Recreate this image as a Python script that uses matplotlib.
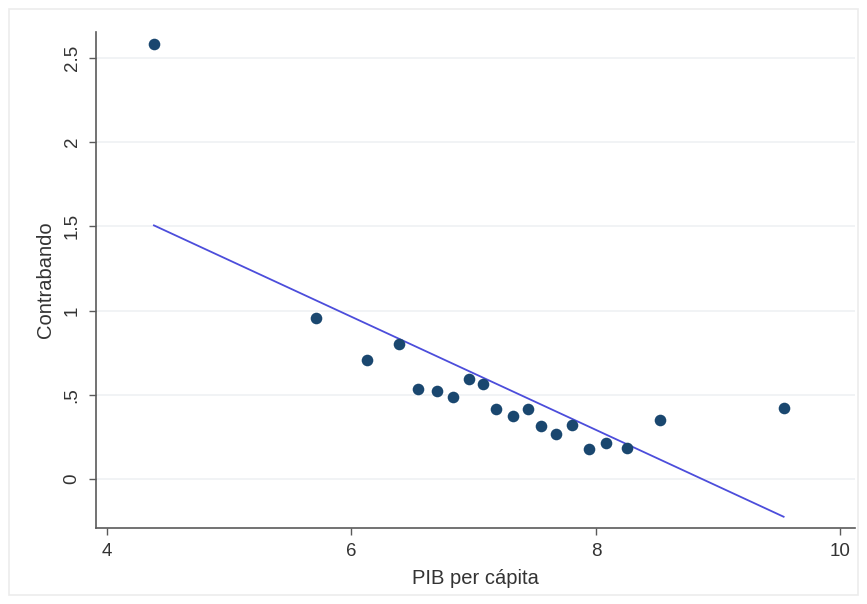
import numpy as np
import matplotlib
matplotlib.use("Agg")
import matplotlib.pyplot as plt
from matplotlib.patches import Rectangle

pib = [4.384, 5.709, 6.126, 6.388, 6.543, 6.698, 6.829, 6.960, 7.074, 7.181,
       7.320, 7.442, 7.549, 7.671, 7.802, 7.941, 8.080, 8.252, 8.522, 9.536]
contrabando = [2.583, 0.958, 0.708, 0.804, 0.536, 0.524, 0.488, 0.595, 0.565, 0.417,
               0.375, 0.417, 0.315, 0.268, 0.321, 0.179, 0.214, 0.185, 0.351, 0.423]
# fitted line as shown in the chart
fit_intercept = 2.979
fit_slope = -0.336
xticks = [4, 6, 8, 10]
yticks = [0, 0.5, 1, 1.5, 2, 2.5]
yticklabels = ["0", ".5", "1", "1.5", "2", "2.5"]

plt.rcParams['font.family'] = ['Liberation Sans', 'DejaVu Sans']

fig = plt.figure(figsize=(8.67, 6.04), dpi=100)
fig.patch.set_facecolor('white')
fig.patches.append(Rectangle((9/867, 9/604), 849/867, 586/604, transform=fig.transFigure,
                             fill=False, edgecolor='#ececec', linewidth=1.2))
ax = fig.add_axes([96/867, (604-528)/604, (855-96)/867, (528-32)/604])

x = np.array(pib)
y = np.array(contrabando)
xf = np.array([x.min(), x.max()])

for t in yticks:
    ax.axhline(t, color='#eff1f3', linewidth=1.2, zorder=0)

ax.scatter(x, y, s=70, color='#1a476f', zorder=3, linewidths=0)
ax.plot(xf, fit_intercept + fit_slope * xf, color='#4c4ddb', linewidth=1.3, zorder=2)

ax.set_xlim(3.91, 10.12)
ax.set_ylim(-0.292, 2.655)
ax.set_xticks(xticks)
ax.set_xticklabels([str(t) for t in xticks])
ax.set_yticks(yticks)
ax.set_yticklabels(yticklabels, rotation=90, va='center')

for s in ['top', 'right']:
    ax.spines[s].set_visible(False)
for s in ['left', 'bottom']:
    ax.spines[s].set_color('#5a5a5a')
    ax.spines[s].set_linewidth(1.2)
ax.tick_params(axis='both', colors='#5a5a5a', labelcolor='#333333', labelsize=13.5,
               length=5, width=1, pad=6)
ax.set_xlabel('PIB per cápita', fontsize=14.5, color='#333333', labelpad=6)
ax.set_ylabel('Contrabando', fontsize=14.5, color='#333333', labelpad=6)

fig.savefig('out.png', dpi=100, facecolor='white')
